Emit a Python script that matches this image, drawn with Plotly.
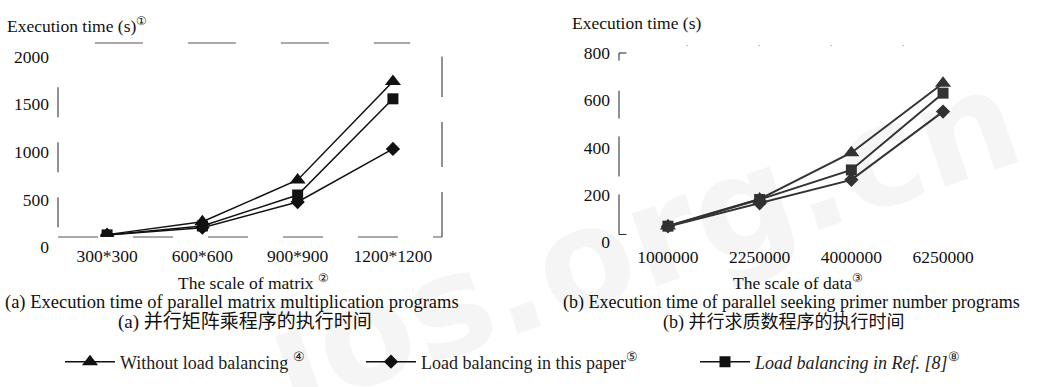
import plotly.graph_objects as go

# ---------------- data ----------------
matrix_scales = ["300*300", "600*600", "900*900", "1200*1200"]
matrix_without = [25, 160, 600, 1635]
matrix_this_paper = [20, 98, 368, 926]
matrix_ref8 = [22, 116, 442, 1453]

data_scales = ["1000000", "2250000", "4000000", "6250000"]
data_without = [68, 182, 378, 672]
data_this_paper = [66, 164, 263, 552]
data_ref8 = [67, 180, 305, 630]

matrix_yticks = [0, 500, 1000, 1500, 2000]
data_yticks = [0, 200, 400, 600, 800]

series_names = [
    "Without load balancing <sup>④</sup>",
    "Load balancing in this paper<sup>⑤</sup>",
    "<i>Load balancing in Ref. [8]</i><sup>⑧</sup>",
]
symbols = ["triangle-up", "diamond", "square"]
marker_sizes = [14, 11, 11]

W, H = 1043, 387
SERIF = "Liberation Serif"
CJK = "Liberation Serif, Noto Sans CJK SC"

def px(x):
    return x / W

def py(y):
    return 1 - y / H

fig = go.Figure()

a_series = [matrix_without, matrix_this_paper, matrix_ref8]
b_series = [data_without, data_this_paper, data_ref8]
legends = ["legend", "legend2", "legend3"]

for i in range(3):
    fig.add_trace(go.Scatter(
        x=matrix_scales, y=a_series[i], mode="lines+markers",
        name=series_names[i], legend=legends[i],
        line=dict(color="#111111", width=1.5),
        marker=dict(symbol=symbols[i], size=marker_sizes[i], color="#111111"),
        xaxis="x", yaxis="y", showlegend=True,
    ))
for i in range(3):
    fig.add_trace(go.Scatter(
        x=data_scales, y=b_series[i], mode="lines+markers",
        name=series_names[i],
        line=dict(color="#333333", width=2),
        marker=dict(symbol=symbols[i], size=marker_sizes[i], color="#333333"),
        xaxis="x2", yaxis="y2", showlegend=False,
    ))
# invisible carrier so the (a) label axis gets drawn
fig.add_trace(go.Scatter(
    x=list(range(len(matrix_scales))), y=matrix_without, mode="markers",
    marker=dict(opacity=0), hoverinfo="skip", showlegend=False,
    xaxis="x3", yaxis="y",
))

tickfont = dict(family=SERIF, size=17.5, color="#111111")
common = dict(showgrid=False, zeroline=False, showline=False, ticks="",
              tickfont=tickfont, automargin=False)

legfont = dict(family=SERIF, size=18, color="#222")
fig.update_layout(
    width=W, height=H,
    margin=dict(l=0, r=0, t=0, b=0, pad=0, autoexpand=False),
    paper_bgcolor="white", plot_bgcolor="white",
    xaxis=dict(domain=[px(58), px(442)], type="category",
               range=[-0.515, 3.515], showticklabels=False, anchor="y", **common),
    # label axis for (a): the scanned labels sit slightly wider apart than the marks
    xaxis3=dict(domain=[px(53), px(468)], overlaying="x", type="linear",
                range=[-0.515, 3.515], tickvals=list(range(len(matrix_scales))),
                ticktext=matrix_scales, ticklabelstandoff=6, anchor="y",
                side="bottom", **common),
    yaxis=dict(domain=[py(237), py(43)], range=[0, 2040],
               tickvals=matrix_yticks, ticklabelshift=10, ticklabelstandoff=8,
               anchor="x", **common),
    xaxis2=dict(domain=[px(619), px(992)], type="category",
                range=[-0.534, 3.534], ticklabelstandoff=2, anchor="y2", **common),
    yaxis2=dict(domain=[py(242), py(53)], range=[0, 800],
                tickvals=data_yticks, ticklabelstandoff=8, anchor="x2", **common),
    legend=dict(x=px(60), y=py(362), xanchor="left", yanchor="middle",
                font=legfont, itemwidth=50, bgcolor="rgba(0,0,0,0)"),
    legend2=dict(x=px(361), y=py(362), xanchor="left", yanchor="middle",
                 font=legfont, itemwidth=50, bgcolor="rgba(0,0,0,0)"),
    legend3=dict(x=px(695), y=py(362), xanchor="left", yanchor="middle",
                 font=legfont, itemwidth=50, bgcolor="rgba(0,0,0,0)"),
)

# broken (scanned) frames
frame = dict(color="#222222", width=1)
shapes = [
    # chart (a)
    dict(type="line", xref="x domain", yref="y domain", x0=0.096, x1=0.917, y0=1, y1=1,
         line=dict(color="#555", width=1.2, dash="48px,45px")),
    dict(type="line", xref="x domain", yref="y domain", x0=0, x1=0, y0=0.05, y1=0.8,
         line=dict(frame, dash="30px,25px")),
    dict(type="line", xref="x domain", yref="y domain", x0=1, x1=1, y0=0, y1=0.93,
         line=dict(frame, dash="45px,25px")),
    dict(type="line", xref="x domain", yref="y domain", x0=0, x1=1, y0=0, y1=0,
         line=dict(color="#555", width=1, dash="40px,35px")),
    # chart (b)
    dict(type="line", xref="x2 domain", yref="y2 domain", x0=0, x1=0, y0=0.04, y1=0.8,
         line=dict(frame, dash="40px,18px")),
    dict(type="line", xref="x2 domain", yref="y2 domain", x0=0, x1=0.02, y0=1, y1=1,
         line=frame),
    dict(type="line", xref="x2 domain", yref="y2 domain", x0=0, x1=0, y0=0.96, y1=1,
         line=frame),
    dict(type="line", xref="x2 domain", yref="y2 domain", x0=0, x1=0.02, y0=0.04, y1=0.04,
         line=frame),
    dict(type="line", xref="x2 domain", yref="y2 domain", x0=0.18, x1=0.9, y0=1.04, y1=1.04,
         line=dict(color="#bbb", width=1, dash="2px,70px")),
]
fig.update_layout(shapes=shapes)

ann = []
def text(x, y, s, size=17.5, family=SERIF, xanchor="center", color="#111"):
    ann.append(dict(x=px(x), y=py(y), xref="paper", yref="paper", text=s,
                    showarrow=False, xanchor=xanchor, yanchor="middle",
                    font=dict(family=family, size=size, color=color)))

text(5, 25, "Execution time (s)<sup>①</sup>", xanchor="left")
text(570, 23, "Execution time (s)", xanchor="left")
text(253, 282, "The scale of matrix <sup>②</sup>")
text(798, 282, "The scale of data<sup>③</sup>")
text(3, 302, "(a) Execution time of parallel matrix multiplication programs", size=18.5, xanchor="left")
text(561, 302, "(b) Execution time of parallel seeking primer number programs", size=18, xanchor="left")
text(116, 322, "(a) 并行矩阵乘程序的执行时间", family=CJK, size=19, xanchor="left")
text(661, 322, "(b) 并行求质数程序的执行时间", family=CJK, size=18, xanchor="left")

# faint watermark
ann.append(dict(x=px(640), y=py(240), xref="paper", yref="paper", text="<b>jos.org.cn</b>",
                showarrow=False, textangle=-19,
                font=dict(family="DejaVu Sans", size=140, color="rgba(0,0,0,0.04)")))
fig.update_layout(annotations=ann)

fig.write_html("out.html", config={"displayModeBar": False},
               post_script="document.body.style.margin='0px';")
